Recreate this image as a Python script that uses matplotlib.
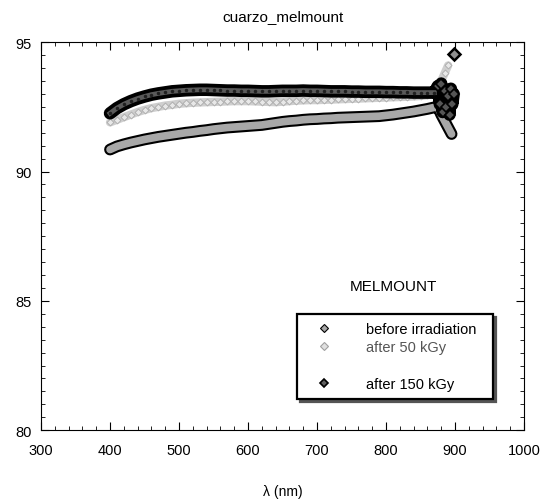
import numpy as np
import matplotlib.pyplot as plt
from matplotlib.lines import Line2D
from matplotlib.ticker import MultipleLocator

plt.rcParams['font.family'] = ['Liberation Sans', 'DejaVu Sans']

# wavelength grid of the smooth part (nm)
wl = np.arange(400, 880, 10)

before = [90.85, 90.97, 91.05, 91.12, 91.18, 91.24, 91.29, 91.34, 91.38, 91.42,
          91.46, 91.50, 91.53, 91.57, 91.60, 91.64, 91.67, 91.70, 91.72, 91.74,
          91.76, 91.78, 91.80, 91.84, 91.88, 91.92, 91.95, 91.97, 92.00, 92.02,
          92.03, 92.05, 92.06, 92.08, 92.09, 92.10, 92.11, 92.12, 92.13, 92.14,
          92.17, 92.20, 92.24, 92.28, 92.32, 92.37, 92.42, 92.48]
before_tail_wl = [875, 880, 885, 890, 895]
before_tail = [92.50, 92.20, 91.95, 91.70, 91.45]

kgy50 = [91.90, 92.00, 92.10, 92.20, 92.30, 92.38, 92.45, 92.50, 92.55, 92.58,
         92.62, 92.64, 92.66, 92.67, 92.68, 92.69, 92.70, 92.71, 92.72, 92.72,
         92.72, 92.71, 92.70, 92.69, 92.68, 92.70, 92.72, 92.74, 92.75, 92.76,
         92.76, 92.77, 92.78, 92.79, 92.80, 92.81, 92.82, 92.83, 92.84, 92.85,
         92.86, 92.87, 92.88, 92.89, 92.90, 92.92, 92.95, 93.00]
kgy50_tail_wl = [875, 880, 885, 890]
kgy50_tail = [93.20, 93.50, 93.80, 94.10]

kgy150 = [92.25, 92.45, 92.60, 92.72, 92.82, 92.90, 92.97, 93.02, 93.06, 93.10,
          93.12, 93.14, 93.15, 93.16, 93.16, 93.15, 93.14, 93.13, 93.13, 93.12,
          93.12, 93.11, 93.10, 93.10, 93.11, 93.12, 93.12, 93.12, 93.13, 93.12,
          93.12, 93.11, 93.10, 93.10, 93.10, 93.09, 93.09, 93.08, 93.08, 93.08,
          93.07, 93.07, 93.06, 93.06, 93.05, 93.05, 93.05, 93.05]
kgy150_tail_wl = [875, 878, 880, 882, 885, 887, 890, 892, 894, 896, 898]
kgy150_tail = [93.30, 92.60, 93.40, 92.30, 93.10, 92.50, 92.90, 92.20, 93.20, 92.60, 93.00]
kgy150_peak_wl = [899]
kgy150_peak = [94.55]

labels = ["before irradiation", "after 50 kGy", "after 150 kGy"]

fig = plt.figure(figsize=(5.47, 5.02), dpi=100)
ax = fig.add_axes([0.075, 0.141, 0.883, 0.773])

x_b = np.concatenate([wl, before_tail_wl])
y_b = np.concatenate([before, before_tail])
x_5 = np.concatenate([wl, kgy50_tail_wl])
y_5 = np.concatenate([kgy50, kgy50_tail])
x_15 = np.concatenate([wl, kgy150_tail_wl])
y_15 = np.concatenate([kgy150, kgy150_tail])

# before irradiation: grey band with black outline
ax.plot(x_b, y_b, color='black', lw=8.5, solid_capstyle='round', zorder=2)
ax.plot(x_b, y_b, color='#a8a8a8', lw=5.5, solid_capstyle='round', zorder=3)

# after 50 kGy: light grey band
ax.plot(x_5, y_5, color='#cfcfcf', lw=6, solid_capstyle='round', zorder=2)
ax.plot(x_5, y_5, 'D', ms=3.5, mfc='#e8e8e8', mec='#b0b0b0', mew=0.7, zorder=3)

# after 150 kGy: dark band
ax.plot(x_15, y_15, color='black', lw=9, solid_capstyle='round', zorder=4)
ax.plot(wl, kgy150, color='#5a5a5a', lw=3.5, zorder=5)
ax.plot(wl, kgy150, '.', ms=3, color='#202020', zorder=5)
ax.plot(kgy150_tail_wl, kgy150_tail, 'D', ms=5.5, mfc='#555555', mec='black', mew=1.2, zorder=5)
ax.plot(kgy150_peak_wl, kgy150_peak, 'D', ms=6, mfc='#909090', mec='black', mew=1.8, zorder=6)

ax.set_xlim(300, 1000)
ax.set_ylim(80, 95)
ax.xaxis.set_major_locator(MultipleLocator(100))
ax.xaxis.set_minor_locator(MultipleLocator(20))
ax.yaxis.set_major_locator(MultipleLocator(5))
ax.yaxis.set_minor_locator(MultipleLocator(0.5))
ax.tick_params(which='both', direction='in', top=True, right=True, labelsize=10.5)
ax.tick_params(which='major', length=6, width=0.8)
ax.tick_params(which='minor', length=3, width=0.6)
ax.tick_params(axis='x', which='major', pad=9)
ax.tick_params(axis='y', which='major', pad=7)
for s in ax.spines.values():
    s.set_linewidth(0.8)

ax.set_title("cuarzo_melmount", fontsize=11, pad=16)
ax.set_xlabel("λ (nm)", fontsize=10, labelpad=20)

ax.text(0.729, 0.371, "MELMOUNT", transform=ax.transAxes, ha='center', va='center', fontsize=11)

handles = [
    Line2D([], [], ls='none', marker='D', ms=4, mfc='#a8a8a8', mec='black', mew=0.8),
    Line2D([], [], ls='none', marker='D', ms=4, mfc='#e0e0e0', mec='#a0a0a0', mew=0.8),
    Line2D([], [], ls='none', marker=None),
    Line2D([], [], ls='none', marker='D', ms=4, mfc='#606060', mec='black', mew=1.2),
]
leg_labels = [labels[0], labels[1], "", labels[2]]
leg = ax.legend(handles, leg_labels, loc='lower left', bbox_to_anchor=(0.53, 0.08, 0.406, 0.227),
                mode='expand', borderaxespad=0, fancybox=False, shadow={'color': '#555555', 'alpha': 1},
                fontsize=10.5, labelspacing=0.3, handletextpad=1.6, handlelength=2.6, borderpad=0.55,
                edgecolor='black', framealpha=1)
leg.get_frame().set_linewidth(1.6)
leg.get_texts()[1].set_color('#555555')

fig.savefig("out.png", dpi=100)
